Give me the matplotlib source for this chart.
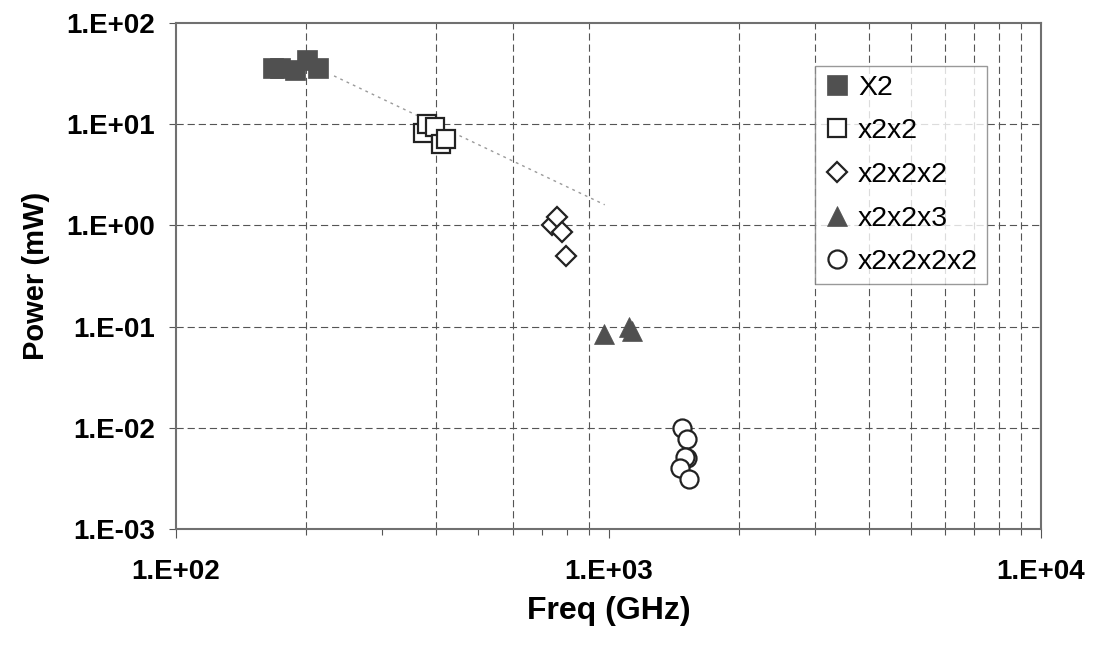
import matplotlib.pyplot as plt
from matplotlib.ticker import FixedLocator, NullFormatter

plt.rcParams['font.family'] = ['Liberation Sans', 'DejaVu Sans']

# data
x2_freq = [168, 174, 188, 201, 213]
x2_power = [36, 36, 34.5, 43, 36]

x2x2_freq = [372, 380, 397, 410, 421]
x2x2_power = [8.2, 10.1, 9.4, 6.4, 7.2]

x2x2x2_freq = [741, 761, 780, 798]
x2x2x2_power = [1.0, 1.2, 0.87, 0.5]

x2x2x3_freq = [977, 1115, 1136]
x2x2x3_power = [0.084, 0.099, 0.09]

x2x2x2x2_freq = [1480, 1520, 1517, 1500, 1466, 1536]
x2x2x2x2_power = [0.0099, 0.0078, 0.005, 0.0052, 0.004, 0.0031]

trend_freq = [232, 980]
trend_power = [30, 1.6]

xgrid = [200, 400, 600, 900, 2000, 3000, 4000, 5000, 6000, 7000, 8000, 9000]
yticks = [1e-3, 1e-2, 1e-1, 1e0, 1e1, 1e2]
ytick_labels = ["1.E-03", "1.E-02", "1.E-01", "1.E+00", "1.E+01", "1.E+02"]
xticks = [1e2, 1e3, 1e4]
xtick_labels = ["1.E+02", "1.E+03", "1.E+04"]

fig = plt.figure(figsize=(10.97, 6.46), dpi=100)
ax = fig.add_axes([0.1604, 0.181, 0.7886, 0.7834])
ax.set_xscale('log')
ax.set_yscale('log')
ax.set_xlim(1e2, 1e4)
ax.set_ylim(1e-3, 1e2)

# dashed gridlines (only where the original has them)
grid_style = dict(color='#555555', lw=0.8, linestyle=(0, (6.5, 3.5)), zorder=0)
for g in xgrid:
    ax.axvline(g, **grid_style)
for g in yticks[1:-1]:
    ax.axhline(g, **grid_style)

ax.plot(trend_freq, trend_power, color='#9a9a9a', lw=1.0, linestyle=(0, (2, 3)), zorder=1)

fill = '#505050'
ax.plot(x2_freq, x2_power, 's', ms=14.4, mfc=fill, mec=fill, mew=0.5, ls='none', label='X2', zorder=3)
ax.plot(x2x2_freq, x2x2_power, 's', ms=13.2, mfc='white', mec='#222222', mew=1.6, ls='none', label='x2x2', zorder=3)
ax.plot(x2x2x2_freq, x2x2x2_power, 'D', ms=10.5, mfc='white', mec='#222222', mew=1.6, ls='none', label='x2x2x2', zorder=3)
ax.plot(x2x2x3_freq, x2x2x3_power, '^', ms=14, mfc=fill, mec=fill, mew=0.5, ls='none', label='x2x2x3', zorder=3)
ax.plot(x2x2x2x2_freq, x2x2x2x2_power, 'o', ms=13, mfc='white', mec='#222222', mew=1.6, ls='none', label='x2x2x2x2', zorder=3)

ax.set_yticks(yticks)
ax.set_yticklabels(ytick_labels, fontsize=20, fontweight='bold')
ax.yaxis.set_minor_locator(FixedLocator([]))
ax.set_xticks(xticks)
ax.set_xticklabels(xtick_labels, fontsize=20, fontweight='bold')
ax.xaxis.set_minor_locator(FixedLocator([200, 300, 400, 500, 600, 700, 800, 900,
                                         2000, 3000, 4000, 5000, 6000, 7000, 8000, 9000]))
ax.xaxis.set_minor_formatter(NullFormatter())
ax.tick_params(axis='y', which='major', direction='out', length=5, width=0.8, pad=10, color='#555555')
ax.tick_params(axis='x', which='major', direction='out', length=6.5, width=0.8, pad=15, color='#555555')
ax.tick_params(axis='x', which='minor', direction='out', length=4, width=0.8, color='#555555')

for s in ax.spines.values():
    s.set_color('#707070')
    s.set_linewidth(1.5)

ax.set_xlabel('Freq (GHz)', fontsize=23, fontweight='bold', labelpad=8)
ax.set_ylabel('Power (mW)', fontsize=21, fontweight='bold', labelpad=12)

leg = ax.legend(loc='upper left', bbox_to_anchor=(0.739, 0.915), fontsize=20.5,
                frameon=True, fancybox=False, shadow=False, borderaxespad=0,
                handlelength=0.9, handletextpad=0.3, labelspacing=0.62,
                borderpad=0.3, numpoints=1)
leg.get_frame().set_edgecolor('#808080')
leg.get_frame().set_linewidth(1.0)

plt.savefig('out.png', dpi=100)
